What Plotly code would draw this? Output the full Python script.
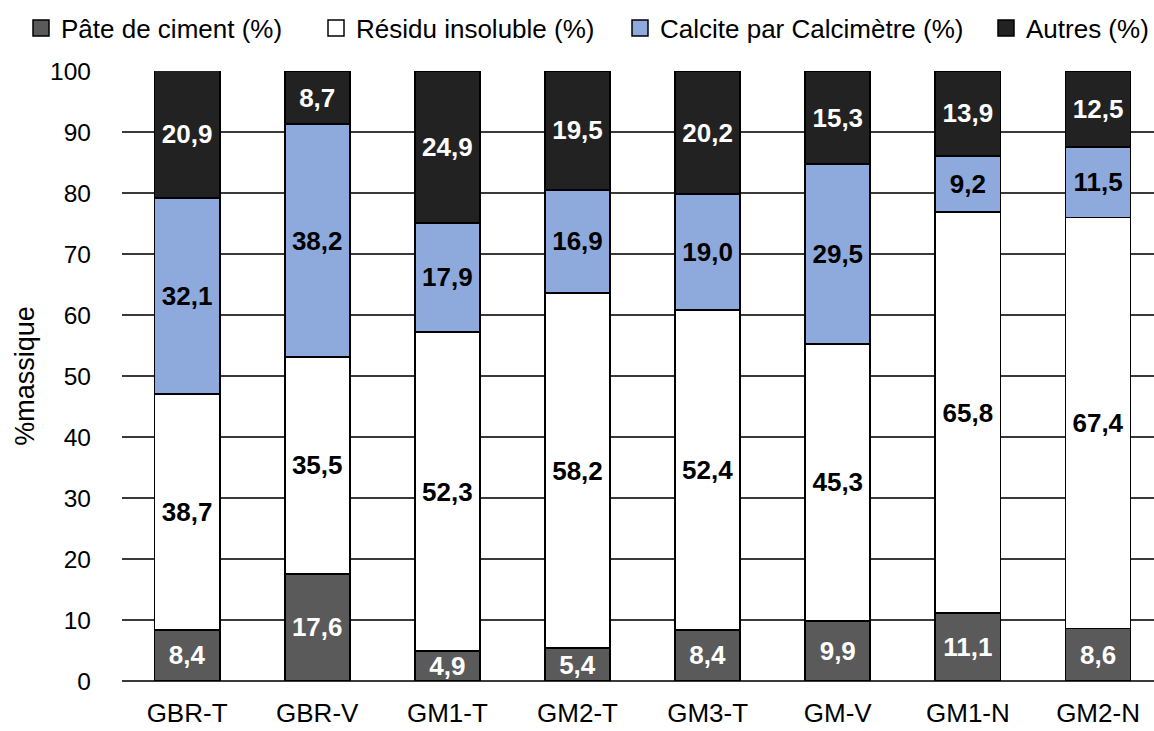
import plotly.graph_objects as go

categories = ["GBR-T", "GBR-V", "GM1-T", "GM2-T", "GM3-T", "GM-V", "GM1-N", "GM2-N"]
pate = [8.4, 17.6, 4.9, 5.4, 8.4, 9.9, 11.1, 8.6]
residu = [38.7, 35.5, 52.3, 58.2, 52.4, 45.3, 65.8, 67.4]
calcite = [32.1, 38.2, 17.9, 16.9, 19.0, 29.5, 9.2, 11.5]
autres = [20.9, 8.7, 24.9, 19.5, 20.2, 15.3, 13.9, 12.5]
y_ticks = [0, 10, 20, 30, 40, 50, 60, 70, 80, 90, 100]

FONT = "Liberation Sans, Arial, sans-serif"

def fmt(vals):
    return [f"{v:.1f}".replace(".", ",") for v in vals]

series = [
    ("Pâte de ciment (%)", pate, "#5a5a5a", "white", "legend"),
    ("Résidu insoluble (%)", residu, "#ffffff", "black", "legend2"),
    ("Calcite par Calcimètre (%)", calcite, "#8eaadc", "black", "legend3"),
    ("Autres (%)", autres, "#222222", "white", "legend4"),
]

fig = go.Figure()
for name, vals, color, tcolor, leg in series:
    fig.add_trace(go.Bar(
        name=name, x=categories, y=vals, showlegend=False,
        marker=dict(color=color, line=dict(color="black", width=1.8)),
        text=fmt(vals), textposition="inside", insidetextanchor="middle",
        textangle=0, constraintext="none",
        textfont=dict(family=FONT, size=26, color=tcolor, weight="bold"),
    ))
    # legend entry with a larger outlined square swatch
    fig.add_trace(go.Scatter(
        name=name, x=[None], y=[None], mode="markers", legend=leg, showlegend=True,
        marker=dict(symbol="square", size=16, color=color, line=dict(color="black", width=1.5)),
        hoverinfo="skip",
    ))

W, H = 1154, 731
leg_x_px = [21, 316, 620, 986]
leg_y = 1 - 28 / H

def legend_cfg(xpx):
    return dict(orientation="h", xref="container", yref="container",
                x=xpx / W, xanchor="left", y=leg_y, yanchor="middle",
                font=dict(family=FONT, size=26, color="black"),
                bgcolor="rgba(0,0,0,0)", itemwidth=30, itemsizing="trace")

fig.update_layout(
    width=W, height=H,
    showlegend=True,
    barmode="stack", bargap=0.5,
    plot_bgcolor="white", paper_bgcolor="white",
    margin=dict(l=122, r=0, t=71, b=50, autoexpand=False),
    font=dict(family=FONT, size=24, color="black"),
    uniformtext=dict(mode="show", minsize=26),
    legend=legend_cfg(leg_x_px[0]),
    legend2=legend_cfg(leg_x_px[1]),
    legend3=legend_cfg(leg_x_px[2]),
    legend4=legend_cfg(leg_x_px[3]),
    xaxis=dict(range=[-0.5, 7.43], showgrid=False, showline=False, ticks="",
               automargin=False,
               tickfont=dict(family=FONT, size=26), ticklabelstandoff=14),
    yaxis=dict(range=[0, 100], tickvals=y_ticks, showgrid=True, gridcolor="#3a3a3a",
               gridwidth=1.5, zeroline=True, zerolinecolor="#3a3a3a", zerolinewidth=1.5,
               showline=False, ticks="", ticklabelstandoff=30, automargin=False,
               tickfont=dict(family=FONT, size=24.5),
               title=dict(text="%massique", font=dict(family=FONT, size=27), standoff=7)),
)

fig.write_html("out.html", config={"displayModeBar": False},
               post_script="document.body.style.margin='0px';")
